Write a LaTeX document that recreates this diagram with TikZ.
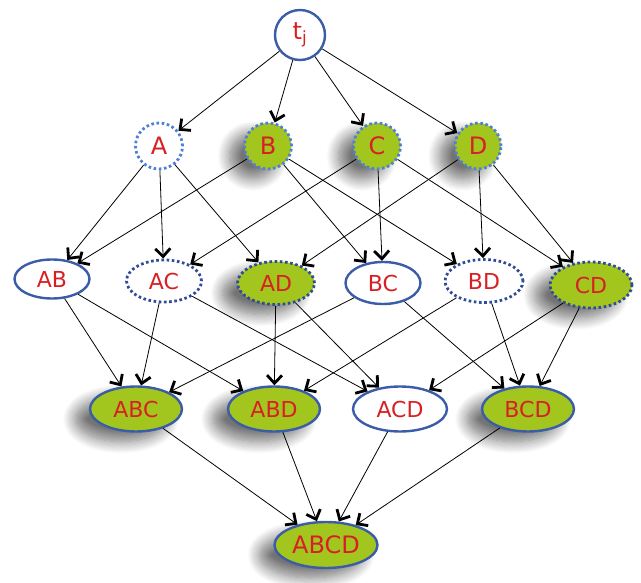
\documentclass[tikz,border=0pt]{standalone}
\usepackage{fontspec}
\setmainfont{DejaVu Sans}
\usetikzlibrary{shapes.geometric,arrows.meta,shadows.blur}
\definecolor{leaf}{HTML}{A2C61E}
\definecolor{rim}{HTML}{3B5CA6}
\definecolor{rimlight}{HTML}{4F7FD6}
\definecolor{rimdark}{HTML}{2F4C94}
\definecolor{lbl}{HTML}{D82024}
\tikzset{
  setnode/.style={ellipse,inner sep=0pt,text=lbl,font=\fontsize{22}{22}\selectfont},
  bigtext/.style={font=\fontsize{24}{24}\selectfont},
  solidrim/.style={draw=rim,line width=2.4pt},
  dotrim/.style={draw=#1,line width=2.8pt,dash pattern=on 2.6pt off 2.6pt},
  filled/.style={fill=leaf,blur shadow={shadow xshift=-15pt,shadow yshift=-10pt,shadow blur radius=12pt,shadow blur steps=14,shadow opacity=55}},
  link/.style={draw=black,line width=0.8pt,-{Straight Barb[length=8pt,width=15pt,line width=2.8pt]}}
}
\begin{document}
\begin{tikzpicture}[x=1pt,y=-1pt]
\useasboundingbox (0,0) rectangle (641,583);
% top element
\node[setnode,solidrim,bigtext,minimum width=50pt,minimum height=50pt] (t) at (300,35) {t\textsubscript{j}};
% singletons
\node[setnode,dotrim=rimlight,bigtext,minimum width=47pt,minimum height=46pt] (A) at (159,146) {A};
\node[setnode,dotrim=rimlight,filled,bigtext,minimum width=47pt,minimum height=46pt] (B) at (268,146) {B};
\node[setnode,dotrim=rimlight,filled,bigtext,minimum width=47pt,minimum height=46pt] (C) at (377,146) {C};
\node[setnode,dotrim=rimlight,filled,bigtext,minimum width=46pt,minimum height=46pt] (D) at (478,146) {D};
% pairs
\node[setnode,solidrim,minimum width=75pt,minimum height=39pt] (AB) at (52,279) {AB};
\node[setnode,dotrim=rimdark,minimum width=75pt,minimum height=42pt] (AC) at (164,281) {AC};
\node[setnode,dotrim=rimdark,filled,minimum width=77pt,minimum height=43pt] (AD) at (276,283) {AD};
\node[setnode,solidrim,minimum width=75pt,minimum height=42pt] (BC) at (383,283) {BC};
\node[setnode,dotrim=rimdark,minimum width=78pt,minimum height=43pt] (BD) at (484,281) {BD};
\node[setnode,dotrim=rimdark,filled,minimum width=82pt,minimum height=46pt] (CD) at (591,285) {CD};
% triples
\node[setnode,solidrim,filled,minimum width=92pt,minimum height=45pt] (ABC) at (136,409) {ABC};
\node[setnode,solidrim,filled,minimum width=92pt,minimum height=45pt] (ABD) at (274,409) {ABD};
\node[setnode,solidrim,minimum width=94pt,minimum height=45pt] (ACD) at (400,409) {ACD};
\node[setnode,solidrim,filled,minimum width=92pt,minimum height=45pt] (BCD) at (528,409) {BCD};
% bottom element
\node[setnode,solidrim,filled,bigtext,minimum width=103pt,minimum height=46pt] (ABCD) at (326,545) {ABCD};
% connectors
\foreach \s/\d in {t/A,t/B,t/C,t/D,
  A/AB,A/AC,A/AD,B/AB,B/BC,B/BD,C/AC,C/BC,C/CD,D/AD,D/BD,D/CD,
  AB/ABC,AB/ABD,AC/ABC,AC/ACD,AD/ABD,AD/ACD,BC/ABC,BC/BCD,BD/ABD,BD/BCD,CD/ACD,CD/BCD,
  ABC/ABCD,ABD/ABCD,ACD/ABCD,BCD/ABCD}
  \draw[link] (\s) -- (\d);
\end{tikzpicture}
\end{document}
